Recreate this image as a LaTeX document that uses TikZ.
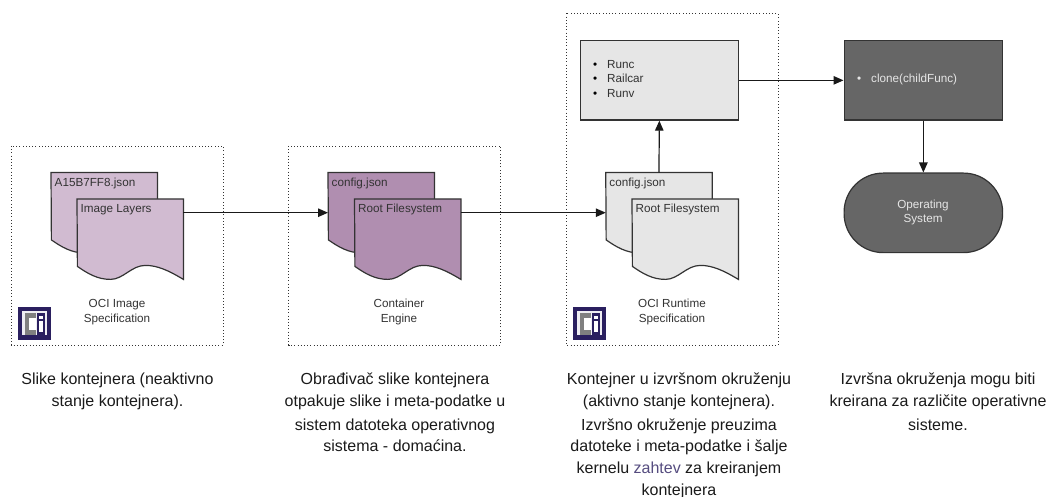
\documentclass[tikz,border=0pt]{standalone}
\usepackage{fontspec}
\setmainfont{Liberation Sans}
\usetikzlibrary{arrows.meta,calc}
\definecolor{lightp}{HTML}{D1BBD1}
\definecolor{midp}{HTML}{B08EB0}
\definecolor{lightg}{HTML}{E6E6E6}
\definecolor{darkg}{HTML}{666666}
\definecolor{navy}{HTML}{2A1F5F}
\definecolor{ink}{HTML}{333333}
\definecolor{note}{HTML}{1A1A1A}
\tikzset{
  x=1pt,y=-1pt,
  frame/.style={draw=ink,line width=.8pt,dash pattern=on .8pt off 2.4pt},
  flow/.style={draw=black!90,line width=1.2pt,-{Triangle[length=10pt,width=8.5pt]}},
  block/.style={draw=ink,line width=1.2pt,minimum width=158.5pt,minimum height=79.5pt,anchor=north west,inner sep=0pt},
  docbox/.style={minimum width=106pt,minimum height=80pt,anchor=north west,inner sep=0pt},
  small/.style={font=\fontsize{11.7}{14.3}\selectfont,text=ink,align=center,inner sep=0pt},
  note/.style={font=\fontsize{16}{21.3}\selectfont,text=note,align=center,inner sep=0pt,anchor=north},
}
% name, x, y, fill, label
\newcommand{\docshape}[5]{%
  \node[docbox] (#1) at (#2,#3) {};
  \draw[fill=#4,draw=ink,line width=1.2pt,line join=miter]
    (#1.north west) -- (#1.north east) -- (#1.south east)
    .. controls ($(#1.south east)+(-15,-9)$) and ($(#1.south east)+(-26,-14)$) .. ($(#1.south east)+(-38,-14)$)
    .. controls ($(#1.south east)+(-52,-14)$) and ($(#1.south east)+(-60,0)$) .. ($(#1.south east)+(-73,0)$)
    .. controls ($(#1.south east)+(-86,0)$) and ($(#1.south east)+(-96,-6)$) .. ($(#1.south east)+(-106,-13)$)
    -- cycle;
  \node[small,anchor=base west] (#1-label) at ($(#1.north west)+(3.5,13.5)$) {#5};
}
\newcommand{\ocilogo}[2]{%
  \fill[navy] (#1,#2) rectangle ++(32.5,32.5);
  \fill[white!92!navy] (#1+4.3,#2+4.3) rectangle ++(25,23.5);
  \fill[gray] (#1+6.7,#2+6) rectangle ++(11,21.5);
  \fill[white] (#1+11,#2+11) rectangle ++(6.7,11.7);
  \fill[navy] (#1+18.5,#2+6) rectangle ++(8.5,21.5);
  \fill[white] (#1+21,#2+9) rectangle ++(3.5,3);
  \fill[white] (#1+21,#2+14) rectangle ++(3.5,11);
}
\begin{document}
\begin{tikzpicture}
\useasboundingbox (0,0) rectangle (1049,497);
\draw[frame] (11,146) rectangle (223,345);
\draw[frame] (288.5,146) rectangle (500.5,345);
\draw[frame] (566,13.5) rectangle (778,345);

\docshape{a1}{51}{172.5}{lightp}{A15B7FF8.json}
\docshape{a2}{77}{199}{lightp}{Image Layers}
\docshape{b1}{328}{172.5}{midp}{config.json}
\docshape{b2}{354.5}{199}{midp}{Root Filesystem}
\docshape{c1}{605.75}{172.5}{lightg}{config.json}
\docshape{c2}{632}{199}{lightg}{Root Filesystem}

\node[block,fill=lightg] (rt) at (579.5,40) {};
\node[small,anchor=base west,text=black] (rt1) at (593,68.5) {•};
\node[small,anchor=base west] (rt1t) at (607,68.5) {Runc};
\node[small,anchor=base west,text=black] (rt2) at (593,82.8) {•};
\node[small,anchor=base west] (rt2t) at (607,82.8) {Railcar};
\node[small,anchor=base west,text=black] (rt3) at (593,97.1) {•};
\node[small,anchor=base west] (rt3t) at (607,97.1) {Runv};

\node[block,fill=darkg] (cl) at (843.5,40) {};
\node[small,anchor=base west,text=lightg] (cl1) at (857,83) {•};
\node[small,anchor=base west,text=lightg] (cl1t) at (871,83) {clone(childFunc)};

\node[block,fill=darkg,rounded corners=39pt] (os) at (843.5,172.5) {};
\node[small,text=lightg] (ostext) at (923,212.5) {Operating\\System};

\node[small] (l1) at (117,312) {OCI Image\\Specification};
\node[small] (l2) at (399,312) {Container\\Engine};
\node[small] (l3) at (672,312) {OCI Runtime\\Specification};

\ocilogo{18}{307}
\ocilogo{573}{307}

\draw[flow] (a2.east |- a1.west) -- (b1.west);
\draw[flow] (b2.east |- b1.west) -- (c1.west);
\draw[flow] (c1.north) -- (rt.south);
\draw[flow] (rt.east) -- (cl.west);
\draw[flow] (cl.south) -- (os.north);

\node[note] (n1) at (117.5,373) {Slike kontejnera (neaktivno\\stanje kontejnera).};
\node[note] (n2) at (395,373) {Obrađivač slike kontejnera\\otpakuje slike i meta-podatke u\\[3pt]sistem datoteka operativnog\\sistema - domaćina.};
\node[note] (n3) at (679,373) {Kontejner u izvršnom okruženju\\(aktivno stanje kontejnera).\\[3pt]Izvršno okruženje preuzima\\datoteke i meta-podatke i šalje\\kernelu {\color{navy!80}zahtev} za kreiranjem\\[1pt]kontejnera};
\node[note] (n4) at (938,373) {Izvršna okruženja mogu biti\\kreirana za različite operativne\\[3pt]sisteme.};
\end{tikzpicture}
\end{document}
